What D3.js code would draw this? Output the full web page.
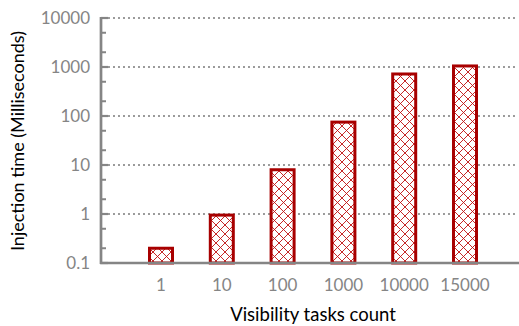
<!DOCTYPE html>
<html>
<head>
<meta charset="utf-8">
<script src="https://cdn.jsdelivr.net/npm/d3@7"></script>
<style>
  html, body { margin: 0; padding: 0; background: #fff; }
  svg { display: block; font-family: Lato, "Open Sans", sans-serif; }
</style>
</head>
<body>
<svg id="chart" width="519" height="326"></svg>
<script>
// Injection time per number of visibility tasks (log scale)
const categories = ["1", "10", "100", "1000", "10000", "15000"];
const injectionMs = [0.2, 0.95, 8, 75, 720, 1050];
const yTickValues = [0.1, 1, 10, 100, 1000, 10000];
const yTickLabels = ["0.1", "1", "10", "100", "1000", "10000"];

const svg = d3.select("#chart");

const axisGray = "#858585";
const barRed = "#a80000";

const y = d3.scaleLog().domain([0.1, 10000]).range([263, 18]);
const x = d3.scalePoint().domain(categories).range([161, 465]);

// crosshatch fill for bars
const defs = svg.append("defs");
const pat = defs.append("pattern")
  .attr("id", "hatch").attr("patternUnits", "userSpaceOnUse")
  .attr("width", 9).attr("height", 9);
pat.append("rect").attr("width", 9).attr("height", 9).attr("fill", "#fff");
pat.append("path").attr("d", "M0,0L9,9M9,0L0,9")
  .attr("stroke", "#c01010").attr("stroke-width", 0.9).attr("fill", "none");

// dotted gridlines at each decade
svg.append("g").selectAll("line").data(yTickValues.slice(1)).join("line")
  .attr("x1", 109).attr("x2", 517)
  .attr("y1", d => y(d)).attr("y2", d => y(d))
  .attr("stroke", axisGray).attr("stroke-width", 2.2)
  .attr("stroke-linecap", "round").attr("stroke-dasharray", "0,5");

// bars
const bw = 23;
svg.append("g").selectAll("rect").data(injectionMs).join("rect")
  .attr("x", (d, i) => x(categories[i]) - bw / 2)
  .attr("width", bw)
  .attr("y", d => y(d))
  .attr("height", d => y(0.1) - y(d))
  .attr("fill", "url(#hatch)")
  .attr("stroke", barRed).attr("stroke-width", 3);

// y axis: inward ticks at 1, 2, 5 of each decade
const minorTicks = [];
for (let e = -1; e < 4; e++) [2, 5].forEach(m => minorTicks.push(m * Math.pow(10, e)));
const yAxis = svg.append("g");
yAxis.selectAll("line.minor").data(minorTicks).join("line")
  .attr("class", "minor")
  .attr("x1", 101).attr("x2", 106)
  .attr("y1", d => y(d)).attr("y2", d => y(d))
  .attr("stroke", axisGray).attr("stroke-width", 2);
yAxis.selectAll("line.major").data(yTickValues).join("line")
  .attr("class", "major")
  .attr("x1", 101).attr("x2", 108)
  .attr("y1", d => y(d)).attr("y2", d => y(d))
  .attr("stroke", axisGray).attr("stroke-width", 2.2);
yAxis.append("line").attr("x1", 101).attr("x2", 101).attr("y1", 17).attr("y2", 264)
  .attr("stroke", axisGray).attr("stroke-width", 2.7);
yAxis.selectAll("text").data(yTickValues).join("text")
  .attr("x", 90).attr("y", d => y(d)).attr("dy", "0.36em")
  .attr("text-anchor", "end").attr("fill", axisGray).attr("font-size", 17)
  .text((d, i) => yTickLabels[i]);

// x axis
const xAxis = svg.append("g");
xAxis.append("line").attr("x1", 100).attr("x2", 519).attr("y1", 263).attr("y2", 263)
  .attr("stroke", axisGray).attr("stroke-width", 2.7);
xAxis.selectAll("text").data(categories).join("text")
  .attr("x", d => x(d)).attr("y", 291)
  .attr("text-anchor", "middle").attr("fill", axisGray).attr("font-size", 17)
  .text(d => d);

// axis titles
svg.append("text").attr("x", 313).attr("y", 321)
  .attr("text-anchor", "middle").attr("font-size", 18.5).attr("fill", "#000")
  .text("Visibility tasks count");
svg.append("text").attr("transform", "translate(24,141) rotate(-90)")
  .attr("text-anchor", "middle").attr("font-size", 18).attr("fill", "#000")
  .text("Injection time (Milliseconds)");
</script>
</body>
</html>
